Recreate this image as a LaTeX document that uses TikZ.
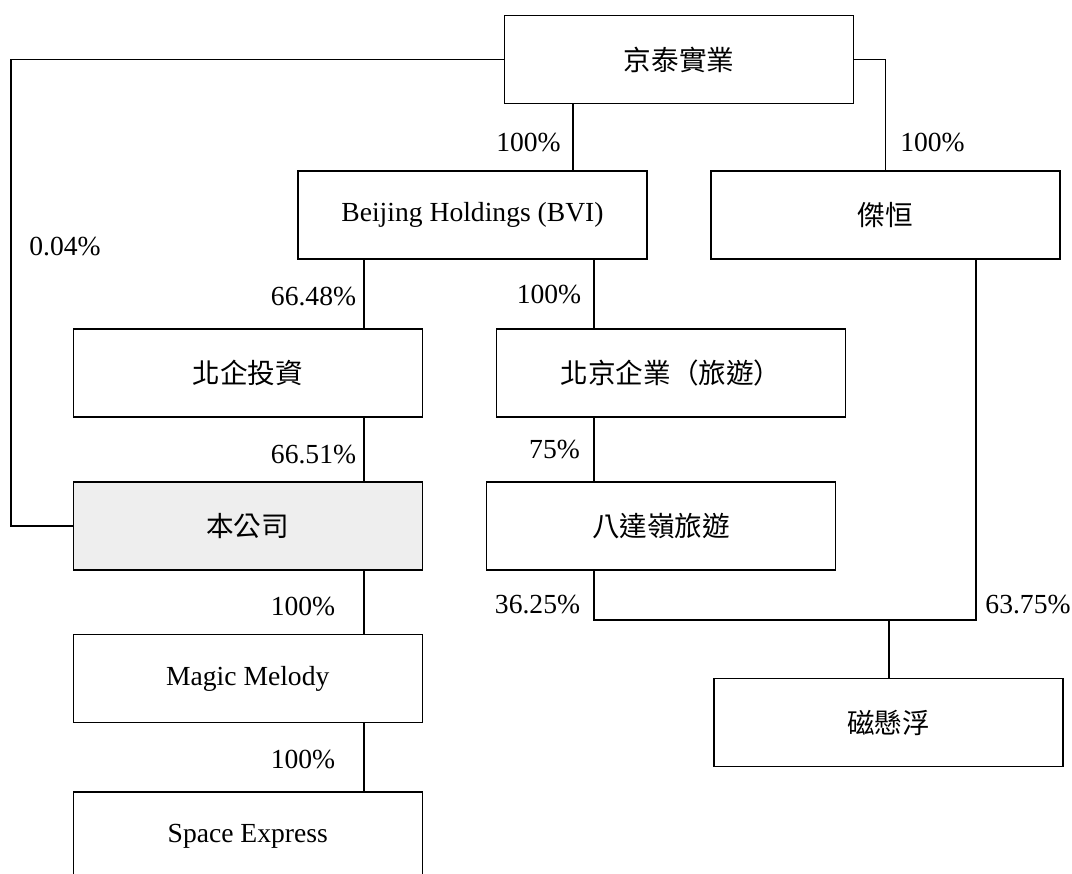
\documentclass[tikz,border=0pt]{standalone}
\usepackage{fontspec}
\setmainfont{Liberation Serif}
\newfontfamily\cjk{Noto Sans CJK TC}
\definecolor{boxgray}{HTML}{EEEEEE}
\tikzset{
  ent/.style={draw=black, line width=1.2pt, minimum width=349pt, minimum height=88pt, inner sep=0pt, font=\fontsize{27.6}{33}\selectfont},
  pct/.style={inner sep=0pt, font=\fontsize{27.6}{33}\selectfont},
  link/.style={line width=1.1pt, draw=black}
}
\begin{document}
\begin{tikzpicture}[x=1pt,y=-1pt]
\useasboundingbox (0,0) rectangle (1072,874);
% entities
\node[ent] (jt) at (679,59.5) {\cjk 京泰實業};
\node[ent] (bh) at (472.5,215) {Beijing Holdings (BVI)};
\node[ent] (jh) at (885.5,215) {\cjk 傑恒};
\node[ent] (bq) at (247.75,373) {\cjk 北企投資};
\node[ent] (bjt) at (671,373) {\cjk 北京企業（旅遊）};
\node[ent, fill=boxgray] (co) at (247.75,526) {\cjk 本公司};
\node[ent] (bdl) at (661,526) {\cjk 八達嶺旅遊};
\node[ent] (mm) at (247.75,678.5) {Magic Melody};
\node[ent] (se) at (247.75,836) {Space Express};
\node[ent] (cxf) at (888.5,722.5) {\cjk 磁懸浮};
% helper coordinates
\coordinate (lc) at (11,526);
\coordinate (xa) at (573,0);
\coordinate (xb) at (364,0);
\coordinate (xc) at (594,0);
\coordinate (xd) at (976,0);
\coordinate (jn) at (594,620);
\coordinate (jr) at (976,620);
\coordinate (jm) at (889,620);
% connectors
\draw[link] (jt.west) -| (lc) -- (co.west);
\draw[link] (jt.south -| xa) -- (bh.north -| xa);
\draw[link] (jt.east) -| (jh.north);
\draw[link] (bh.south -| xb) -- (bq.north -| xb);
\draw[link] (bh.south -| xc) -- (bjt.north -| xc);
\draw[link] (bq.south -| xb) -- (co.north -| xb);
\draw[link] (bjt.south -| xc) -- (bdl.north -| xc);
\draw[link] (co.south -| xb) -- (mm.north -| xb);
\draw[link] (mm.south -| xb) -- (se.north -| xb);
\draw[link] (bdl.south -| xc) -- (jn) -- (jr) -- (jh.south -| xd);
\draw[link] (jm) -- (cxf.north -| jm);
% percentages
\node[pct] (p1) at (528.5,143) {100\%};
\node[pct] (p2) at (932.5,143) {100\%};
\node[pct] (p3) at (65,247) {0.04\%};
\node[pct] (p4) at (313.5,297) {66.48\%};
\node[pct] (p5) at (549,295) {100\%};
\node[pct] (p6) at (313.5,455) {66.51\%};
\node[pct] (p7) at (554.5,450) {75\%};
\node[pct] (p8) at (303,607) {100\%};
\node[pct] (p9) at (537.5,605) {36.25\%};
\node[pct] (p10) at (1028,605) {63.75\%};
\node[pct] (p11) at (303,760) {100\%};
\end{tikzpicture}
\end{document}
